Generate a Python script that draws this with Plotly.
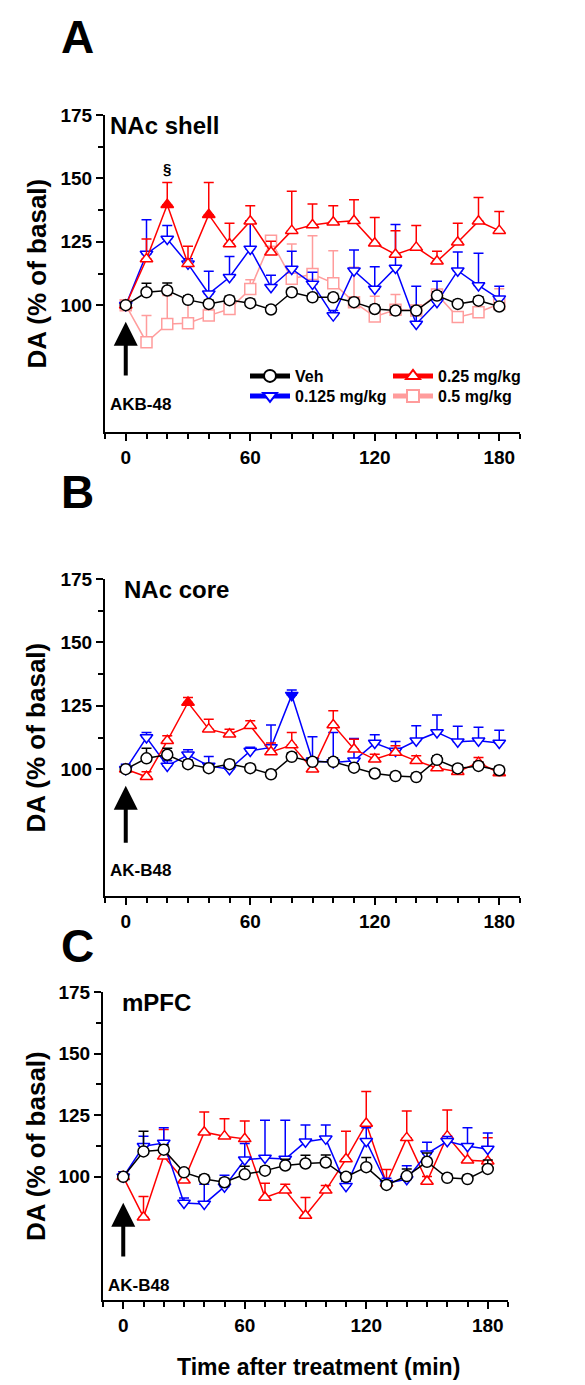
import plotly.graph_objects as go

W, H = 585, 1385
t = [0, 10, 20, 30, 40, 50, 60, 70, 80, 90, 100, 110, 120, 130, 140, 150, 160, 170, 180]

# Panel A - NAc shell
A_veh = [100, 105.1, 105.8, 102.1, 100.5, 102.0, 100.8, 98.3, 105.1, 103.1, 103.1, 101.2, 98.5, 97.9, 97.9, 103.8, 100.5, 101.8, 99.5]
A_veh_err = [1, 3.6, 3.0, 1.5, 1.5, 1.5, 1.5, 1.5, 1.5, 1.5, 1.5, 1.5, 1.5, 1.5, 1.5, 1.5, 1.5, 1.5, 1.5]
A_low = [100, 120.2, 126.1, 116.3, 104.5, 111.0, 122.2, 107.1, 114.3, 108.4, 95.9, 113.6, 106.4, 114.7, 92.6, 101.2, 113.6, 107.8, 102.5]
A_low_err = [1, 13.5, 5.3, 2, 8.9, 8.2, 11.1, 4.7, 7.0, 4.6, 2, 8.2, 8.8, 17.1, 14.9, 8.2, 7.4, 12.7, 5.0]
A_mid = [100, 118.2, 139.6, 116.3, 135.7, 124.1, 133.1, 120.9, 129.4, 131.6, 132.7, 133.3, 124.4, 120.0, 122.8, 117.3, 124.8, 133.1, 129.4]
A_mid_err = [1, 7.9, 8.8, 6.9, 12.7, 8.2, 6.1, 4.3, 15.5, 8.3, 6.5, 8.3, 10.2, 9.4, 8.6, 4.0, 7.5, 9.4, 7.5]
A_mid_sig = [20, 40]
A_high = [100, 85.4, 92.6, 92.9, 95.9, 98.5, 106.4, 125.4, 110.4, 112.3, 108.7, 101.2, 95.5, 98.2, 97.9, 104.2, 95.3, 97.2, 100.5]
A_high_err = [1, 10.5, 11.2, 8.9, 2.6, 2, 3.6, 2, 13.7, 15.1, 12.8, 13.8, 8, 6, 2, 2, 2, 2, 6]

# Panel B - NAc core
B_veh = [100, 104.3, 105.7, 102.0, 100.4, 102.0, 100.4, 98.0, 104.9, 102.9, 102.9, 100.6, 98.3, 97.3, 96.9, 103.7, 100.3, 101.3, 99.6]
B_veh_err = [1, 4, 2.6, 1.5, 1.5, 1.5, 1.5, 1.5, 1.5, 1.5, 1.5, 1.5, 1.5, 1.5, 1.5, 1.5, 1.5, 1.5, 1.5]
B_low = [100, 112.5, 101.3, 105.7, 101.3, 100.0, 107.2, 108.6, 129.2, 103.3, 102.6, 103.3, 110.3, 107.2, 111.2, 114.5, 110.8, 111.2, 110.3]
B_low_err = [2, 2, 2, 2, 3.7, 2, 1.5, 8.8, 2, 9.5, 11.9, 8.8, 3.3, 3.7, 5.9, 6.9, 6.1, 5.3, 5.1]
B_low_sig = [80]
B_mid = [100, 97.0, 111.2, 126.3, 115.8, 113.8, 117.1, 106.8, 109.5, 100.0, 117.4, 107.9, 103.9, 106.6, 103.3, 100.5, 99.0, 102.6, 98.5]
B_mid_err = [1, 2, 2, 2, 3.9, 2, 2, 3.5, 5.0, 2, 5.6, 3.9, 2, 2.6, 2, 2, 2, 2, 2]
B_mid_sig = [30]

# Panel C - mPFC
C_veh = [100, 110.3, 111.0, 101.8, 99.1, 97.8, 101.0, 102.5, 104.6, 105.4, 105.8, 100.0, 103.9, 96.7, 100.3, 106.1, 99.6, 99.1, 103.2]
C_veh_err = [1, 8.2, 2, 1.5, 1.5, 1.5, 3.3, 1.5, 2.5, 3.3, 3.0, 1.5, 3.9, 1.5, 2.9, 3.6, 1.5, 1.5, 3.6]
C_low = [100, 112.4, 113.7, 89.4, 89.0, 96.0, 106.9, 107.6, 107.2, 114.2, 115.4, 96.2, 114.4, 97.4, 99.0, 109.4, 114.4, 112.4, 111.3]
C_low_err = [2, 4.1, 6.2, 2, 8, 4.6, 6.6, 15.4, 15.8, 6.8, 5.6, 2, 5.5, 2, 5.5, 4.6, 2, 7.5, 6.5]
C_mid = [100, 83.6, 108.3, 98.6, 118.1, 116.5, 115.4, 91.6, 94.5, 84.3, 94.5, 107.2, 121.6, 97.4, 115.8, 98.1, 116.5, 106.7, 106.3]
C_mid_err = [2, 8.4, 10.9, 2, 8.2, 7.1, 7.2, 5.8, 2.5, 7.3, 2, 11.3, 13, 5.6, 10.9, 2, 10.6, 5.7, 9.5]

x_ticks = [0, 60, 120, 180]
y_ticks = [100, 125, 150, 175]
y_minor = [112.5, 137.5, 162.5]

BLACK, BLUE, RED, PINK = "#000000", "#0000FF", "#FF0000", "#FF9C9C"
FONT = "Arial, Liberation Sans, sans-serif"

# pixel layout (left, right, top(175), bottom(50), letter centre y)
panels = [
    dict(name="A", x0=97, x1=512, top=107, bot=424, ly=29),
    dict(name="B", x0=97, x1=512, top=571, bot=888, ly=484),
    dict(name="C", x0=95, x1=500, top=984, bot=1292, ly=938),
]

fig = go.Figure()


def add_series(idx, name, y, err, color, symbol, sig=None, show=False, legend="legend"):
    ax = "" if idx == 0 else str(idx + 1)
    fills = ["white" if (sig is None or ti not in sig) else color for ti in t]
    fig.add_trace(go.Scatter(
        x=t, y=y, mode="lines+markers", name=name,
        xaxis="x" + ax, yaxis="y" + ax,
        line=dict(color=color, width=1.5),
        marker=dict(symbol=symbol, size=11,
                    color=fills, line=dict(color=color, width=1.5)),
        error_y=dict(type="data", symmetric=False, array=err,
                     arrayminus=[0] * len(err), color=color, thickness=1.5, width=5),
        showlegend=show, legend=legend,
    ))


add_series(0, "0.5 mg/kg", A_high, A_high_err, PINK, "square", show=True, legend="legend4")
add_series(0, "0.125 mg/kg", A_low, A_low_err, BLUE, "triangle-down", show=True, legend="legend3")
add_series(0, "0.25 mg/kg", A_mid, A_mid_err, RED, "triangle-up", sig=A_mid_sig, show=True, legend="legend2")
add_series(0, "Veh", A_veh, A_veh_err, BLACK, "circle", show=True, legend="legend")

add_series(1, "0.125 mg/kg", B_low, B_low_err, BLUE, "triangle-down", sig=B_low_sig)
add_series(1, "0.25 mg/kg", B_mid, B_mid_err, RED, "triangle-up", sig=B_mid_sig)
add_series(1, "Veh", B_veh, B_veh_err, BLACK, "circle")

add_series(2, "0.25 mg/kg", C_mid, C_mid_err, RED, "triangle-up")
add_series(2, "0.125 mg/kg", C_low, C_low_err, BLUE, "triangle-down")
add_series(2, "Veh", C_veh, C_veh_err, BLACK, "circle")

tickfont = dict(family=FONT, size=19, color="black", weight="bold")
annotations = []
for i, p in enumerate(panels):
    ax = "" if i == 0 else str(i + 1)
    xd = [p["x0"] / W, p["x1"] / W]
    yd = [1 - p["bot"] / H, 1 - p["top"] / H]
    fig.layout["xaxis" + ax] = dict(
        domain=xd, anchor="y" + ax, range=[-10, 190], tickvals=x_ticks,
        showline=True, linecolor="black", linewidth=2, ticks="outside",
        ticklen=7, tickwidth=2, tickcolor="black", showgrid=False, zeroline=False,
        tickfont=tickfont, automargin=False,
        minor=dict(tick0=0, dtick=10, ticks="outside", ticklen=5, tickwidth=1.5, tickcolor="black", showgrid=False),
    )
    fig.layout["yaxis" + ax] = dict(
        domain=yd, anchor="x" + ax, range=[50, 175], tickvals=y_ticks,
        showline=True, linecolor="black", linewidth=2, ticks="outside",
        ticklen=7, tickwidth=2, tickcolor="black", showgrid=False, zeroline=False,
        tickfont=tickfont, automargin=False,
        minor=dict(tickvals=y_minor, ticks="outside", ticklen=5, tickwidth=1.5, tickcolor="black", showgrid=False),
    )
    # Panel letter
    annotations.append(dict(text=p["name"], xref="paper", yref="paper",
                            x=51 / W, y=1 - p["ly"] / H, xanchor="left", yanchor="middle",
                            showarrow=False, font=dict(family=FONT, size=46, color="black", weight="bold")))
    # y-axis title
    annotations.append(dict(text="DA (% of basal)", xref="paper", yref="paper",
                            x=28 / W, y=(yd[0] + yd[1]) / 2, textangle=-90,
                            xanchor="center", yanchor="middle", showarrow=False,
                            font=dict(family=FONT, size=26, color="black", weight="bold")))

titles = ["NAc shell", "NAc core", "mPFC"]
title_x = [-8.5, -2, -1.5]
for i, ttl in enumerate(titles):
    ax = "" if i == 0 else str(i + 1)
    annotations.append(dict(text=ttl, xref="x" + ax, yref="y" + ax, x=title_x[i], y=174.9,
                            xanchor="left", yanchor="top", yshift=5, showarrow=False,
                            font=dict(family=FONT, size=24, color="black", weight="bold")))

# arrows + drug labels
arrow_spec = [(93.5, 71.7, "AKB-48", 61), (93.5, 70.4, "AK-B48", 60), (89.5, 67, "AK-B48", 56)]
for i, (yh, yt, lab, yl) in enumerate(arrow_spec):
    ax = "" if i == 0 else str(i + 1)
    annotations.append(dict(text="", x=0, y=yh, ax=0, ay=yt, xref="x" + ax, yref="y" + ax,
                            axref="x" + ax, ayref="y" + ax, showarrow=True, arrowhead=2,
                            arrowsize=1.2, arrowwidth=4, arrowcolor="black", standoff=0))
    annotations.append(dict(text=lab, x=-8.5, y=yl, xref="x" + ax, yref="y" + ax,
                            xanchor="left", yanchor="middle", showarrow=False,
                            font=dict(family=FONT, size=17, color="black", weight="bold")))

annotations.append(dict(text="§", x=20, y=154, xref="x", yref="y", showarrow=False,
                        font=dict(family=FONT, size=15, color="black", weight="bold")))

annotations.append(dict(text="Time after treatment (min)", xref="paper", yref="paper",
                        x=(95 + 106.5 * (500 - 95) / 200) / W, y=1 - 1359 / H, xanchor="center", yanchor="middle",
                        showarrow=False, font=dict(family=FONT, size=23, color="black", weight="bold")))

legfont = dict(family=FONT, size=16, color="black", weight="bold")


def leg(xpx, ypx):
    return dict(orientation="v", x=xpx / W, y=1 - ypx / H, xanchor="left", yanchor="middle",
                itemwidth=40, font=legfont, bgcolor="rgba(0,0,0,0)", itemsizing="constant")


fig.update_layout(
    width=W, height=H, margin=dict(l=0, r=0, t=0, b=0, autoexpand=False),
    paper_bgcolor="white", plot_bgcolor="white",
    annotations=annotations,
    legend=leg(237, 368), legend2=leg(380, 368),
    legend3=leg(237, 388), legend4=leg(380, 388),
)

fig.write_html("out.html")
